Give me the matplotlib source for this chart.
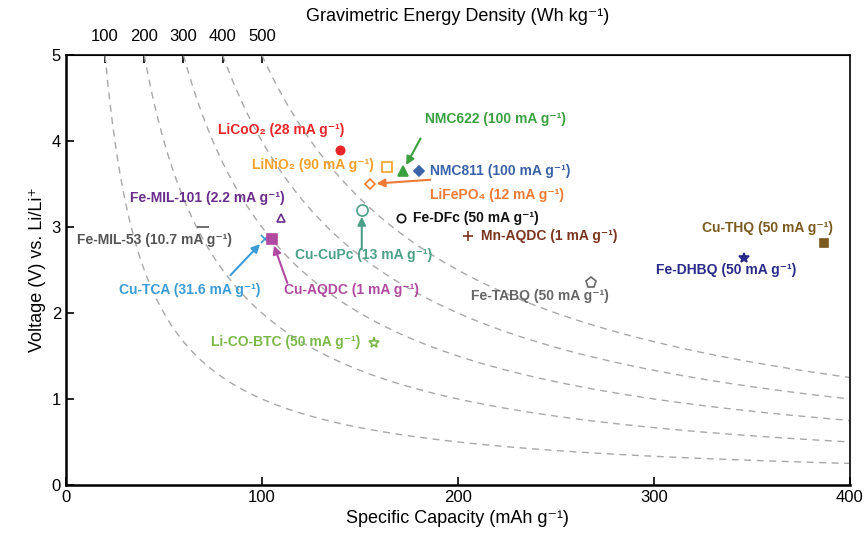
import matplotlib
matplotlib.use("Agg")
import matplotlib.pyplot as plt
import numpy as np

plt.rcParams['font.family'] = ['Liberation Sans', 'DejaVu Sans']

# energy density contours (Wh/kg)
energies = [100, 200, 300, 400, 500]

names = ['LiCoO₂', 'LiNiO₂', 'NMC622', 'NMC811', 'LiFePO₄', 'Cu-CuPc', 'Fe-DFc',
         'Mn-AQDC', 'Fe-MIL-101', 'Fe-MIL-53', 'Cu-TCA', 'Cu-AQDC', 'Li-CO-BTC',
         'Fe-TABQ', 'Fe-DHBQ', 'Cu-THQ']
capacity = [140, 164, 172, 180, 155, 151, 171, 205, 110, 70, 101.5, 105, 157, 268, 346, 387]
voltage = [3.9, 3.7, 3.65, 3.65, 3.5, 3.2, 3.1, 2.9, 3.1, 3.0, 2.86, 2.86, 1.65, 2.35, 2.64, 2.81]
currents = ['28', '90', '100', '100', '12', '13', '50', '1', '2.2', '10.7', '31.6', '1',
            '50', '50', '50', '50']
colors = ['#e8262a', '#f5a02a', '#3aa040', '#3a62a8', '#ef7a35', '#4aa088', '#111111',
          '#7a3420', '#6a2d8c', '#555555', '#3a9cd6', '#b04aa0', '#7ab848',
          '#666666', '#2a2a8a', '#7a5a1e']
markers = ['o', 's', '^', 'D', 'D', 'o', 'o', '+', '^', '_', 'x', 's', '*', 'p', '*', 's']
filled = [True, False, True, True, False, False, False, True, False, True, True, True,
          False, False, True, True]
msize = [6, 7, 7, 5, 5, 8, 6, 7, 6, 8, 6, 7, 8, 8, 7, 6]

# label anchor (x, y, ha) and optional arrow start
label_pos = [(110, 4.13, 'center'), (126, 3.72, 'center'), (219, 4.26, 'center'),
             (186, 3.65, 'left'), (220, 3.37, 'center'), (152, 2.67, 'center'),
             (177, 3.11, 'left'), (212, 2.9, 'left'), (72, 3.34, 'center'),
             (45, 2.85, 'center'), (63, 2.27, 'center'), (146, 2.27, 'center'),
             (112, 1.66, 'center'), (242, 2.2, 'center'), (337, 2.5, 'center'),
             (358, 2.99, 'center')]
arrow_from = {2: (181, 4.03), 4: (186, 3.55), 5: (151, 2.74), 10: (84, 2.44), 11: (113, 2.35)}

fig = plt.figure(figsize=(8.67, 5.4), dpi=100)
ax = fig.add_axes([0.076, 0.102, 0.904, 0.796])

for e in energies:
    c = np.linspace(e / 5, 400, 300)
    ax.plot(c, e / c, ls=(0, (5, 4)), color='#a8a8a8', lw=1.0, zorder=1)

for i in range(len(names)):
    fc = colors[i] if filled[i] else 'none'
    ax.plot(capacity[i], voltage[i], marker=markers[i], ms=msize[i], mfc=fc,
            mec=colors[i], mew=1.2, ls='none', zorder=3)
    lx, ly, ha = label_pos[i]
    ax.text(lx, ly, f'{names[i]} ({currents[i]} mA g⁻¹)', color=colors[i],
            fontsize=10, fontweight='bold', ha=ha, va='center', zorder=4)
    if i in arrow_from:
        ax.annotate('', xy=(capacity[i], voltage[i]), xytext=arrow_from[i],
                    arrowprops=dict(arrowstyle='-|>', color=colors[i], lw=1.5,
                                    shrinkA=0, shrinkB=5, mutation_scale=12), zorder=4)

ax.set_xlim(0, 400)
ax.set_ylim(0, 5)
ax.set_xticks([0, 100, 200, 300, 400])
ax.set_yticks([0, 1, 2, 3, 4, 5])
ax.tick_params(direction='in', labelsize=12, length=6, width=1.2)
ax.set_xlabel('Specific Capacity (mAh g⁻¹)', fontsize=13)
ax.set_ylabel('Voltage (V) vs. Li/Li⁺', fontsize=13)
for s in ['left', 'bottom']:
    ax.spines[s].set_linewidth(1.8)
ax.spines['right'].set_linewidth(1.2)
ax.spines['top'].set_linewidth(1.2)

top = ax.secondary_xaxis('top')
top.set_xticks([e / 5 for e in energies])
top.set_xticklabels([str(e) for e in energies])
top.tick_params(direction='in', labelsize=12, length=6, width=1.2, pad=8)
top.set_xlabel('Gravimetric Energy Density (Wh kg⁻¹)', fontsize=13, labelpad=6)

fig.savefig('out.png', dpi=100)
